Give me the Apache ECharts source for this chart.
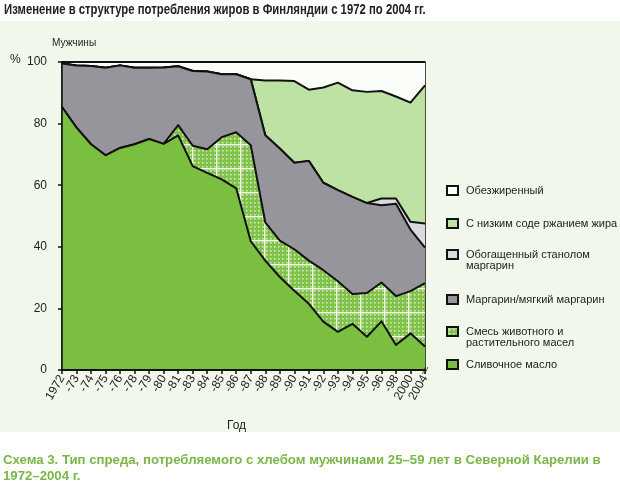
<!DOCTYPE html>
<html><head><meta charset="utf-8">
<script src="https://cdn.jsdelivr.net/npm/echarts@6/dist/echarts.min.js"></script>
<style>html,body{margin:0;padding:0;background:#fff}#c{width:620px;height:483px}</style>
</head><body><div id="c"></div>
<script>
// ---- data ----
const years = ['1972','-73','-74','-75','-76','-78','-79','-80','-81','-83','-84','-85','-86','-87','-88','-89','-90','-91','-92','-93','-94','-95','-96','-98','2000','2004'];
const butter    = [85.4,78.7,73.3,69.7,72.1,73.3,75.0,73.4,76.2,66.2,64.0,61.9,59.0,41.8,35.5,30.2,25.7,21.5,15.7,12.4,15.0,10.8,15.8,8.1,11.9,7.6];
const blend     = [0,0,0,0,0,0,0,0,3.3,6.6,7.7,13.7,18.2,31.2,12.4,11.8,13.5,14.0,16.7,16.4,9.7,14.2,12.6,15.9,13.7,20.6];
const margarine = [14.1,20.2,25.4,28.4,26.8,24.8,23.1,24.8,19.1,24.3,25.2,20.4,18.8,21.4,28.3,29.9,28.1,32.4,28.4,29.6,31.5,29.2,25.1,30.0,20.0,11.5];
const stanol    = [0,0,0,0,0,0,0,0,0,0,0,0,0,0,0,0,0,0,0,0,0,0,2.2,1.7,2.5,7.9];
const lowFat    = [0,0,0,0,0,0,0,0,0,0,0,0,0,0,17.8,22.1,26.5,23.1,30.9,34.9,34.6,36.1,34.9,33.1,38.7,44.8];
const skim      = [0.5,1.1,1.3,1.9,1.1,1.9,1.9,1.8,1.4,2.9,3.1,4.0,4.0,5.6,6.0,6.0,6.2,9.0,8.3,6.7,9.2,9.7,9.4,11.2,13.2,7.6];
const yTicks = [0,20,40,60,80,100];
const names = ['Сливочное масло','Смесь животного и растительного масел','Маргарин/мягкий маргарин','Обогащенный станолом маргарин','С низким соде ржанием жира','Обезжиренный'];
const legendFirst = ['Сливочное масло','Смесь животного и','Маргарин/мягкий маргарин','Обогащенный станолом','С низким соде ржанием жира','Обезжиренный'];
const legendSecond = ['', 'растительного масел', '', 'маргарин', '', ''];

const SANS = '"Liberation Sans",Arial,sans-serif';

// dotted pattern for blend
const tile = document.createElement('canvas'); tile.width = 24; tile.height = 24;
const ctx = tile.getContext('2d');
ctx.fillStyle = '#80c24a'; ctx.fillRect(0,0,24,24);
ctx.fillStyle = '#dcf1c8';
for (let x = 2; x < 24; x += 4) for (let y = 2; y < 24; y += 4) ctx.fillRect(x, y, 1.5, 1.5);
ctx.fillStyle = '#f4fbee'; ctx.fillRect(0,0,24,1.4); ctx.fillRect(0,0,1.4,24);
const pattern = {image: tile, repeat: 'repeat'};

const colors = ['#7abf40', pattern, '#95959b', '#d9d9de', '#bde2a3', '#fbfdf8'];
const dataSets = [butter, blend, margarine, stanol, lowFat, skim];

const series = dataSets.map((d, i) => ({
  name: names[i], type: 'line', stack: 'all', data: d,
  symbol: 'none', showSymbol: false, z: 10 - i,
  lineStyle: {color: '#111', width: 2, join: 'round'},
  areaStyle: {color: colors[i], opacity: 1},
  itemStyle: {color: colors[i]},
  emphasis: {disabled: true}, silent: true
}));

const legendCenters = [361, 328, 296, 251, 220, 187];
const legends = names.map((n, i) => ({
  data: [n], orient: 'vertical', left: 441, top: legendCenters[i] - 7,
  icon: 'rect', itemWidth: 11, itemHeight: 9, selectedMode: false,
  itemStyle: {color: colors[i], borderColor: '#111', borderWidth: 2},
  formatter: () => legendFirst[i],
  textStyle: {fontFamily: SANS, fontSize: 11, color: '#222', padding: [0,0,0,3]}
}));

const graphics = [
  {type: 'rect', shape: {x: 0, y: 21, width: 620, height: 411}, style: {fill: '#f1f8eb'}, z: -10, silent: true},
  {type: 'text', x: 4, y: 3, scaleX: 0.81, style: {text: 'Изменение в структуре потребления жиров в Финляндии с 1972 по 2004 гг.', font: 'bold 14px ' + SANS, fill: '#222'}},
  {type: 'text', x: 52, y: 37, scaleX: 0.88, style: {text: 'Мужчины', font: '11.5px ' + SANS, fill: '#222'}},
  {type: 'text', left: 10, top: 54, style: {text: '%', font: '12px ' + SANS, fill: '#222'}}
];
legendSecond.forEach((t, i) => {
  if (t) graphics.push({type: 'text', left: 466, top: legendCenters[i] + 9, style: {text: t, font: '11px ' + SANS, fill: '#222'}});
});
graphics.push({type: 'text', left: 3, top: 452, style: {text: 'Схема 3. Тип спреда, потребляемого с хлебом мужчинами 25–59 лет в Северной Карелии в\n1972–2004 г.', font: 'bold 13.2px ' + SANS, fill: '#7ab648', lineHeight: 16}});

const chart = echarts.init(document.getElementById('c'), null, {renderer: 'canvas'});
chart.setOption({
  animation: false,
  backgroundColor: '#ffffff',
  grid: {left: 62, right: 195, top: 62, bottom: 113, show: true, borderColor: '#111', borderWidth: 1.5, backgroundColor: 'transparent'},
  xAxis: {type: 'category', data: years, boundaryGap: false, z: 20,
    name: 'Год', nameLocation: 'middle', nameGap: 50,
    nameTextStyle: {fontFamily: SANS, fontSize: 12, color: '#222', padding: [0, 14, 0, 0]},
    axisLine: {lineStyle: {color: '#111', width: 2}},
    axisTick: {show: true, inside: false, length: 4, alignWithLabel: true, interval: 0, lineStyle: {color: '#111', width: 1.5}},
    axisLabel: {interval: 0, rotate: 60, margin: 6, fontFamily: SANS, fontSize: 12, color: '#222'},
    splitLine: {show: false}},
  yAxis: {type: 'value', min: 0, max: 100, interval: 20, z: 20,
    axisLine: {show: true, lineStyle: {color: '#111', width: 1.5}},
    axisTick: {show: true, length: 4, lineStyle: {color: '#111', width: 1.5}},
    axisLabel: {margin: 15, fontFamily: SANS, fontSize: 12, color: '#222',
      formatter: v => yTicks.includes(v) ? String(v) : ''},
    splitLine: {show: false}},
  legend: legends,
  graphic: graphics,
  series: series
});
// axis break mark between 2000 and 2004
const p = chart.convertToPixel({gridIndex: 0}, [24.55, 0]);
graphics.push({type: 'text', x: p[0], y: p[1] + 1, z: 30, style: {text: '//', font: 'italic 9px ' + SANS, fill: '#222', align: 'center', verticalAlign: 'middle'}});
chart.setOption({graphic: graphics});
</script>
</body></html>
